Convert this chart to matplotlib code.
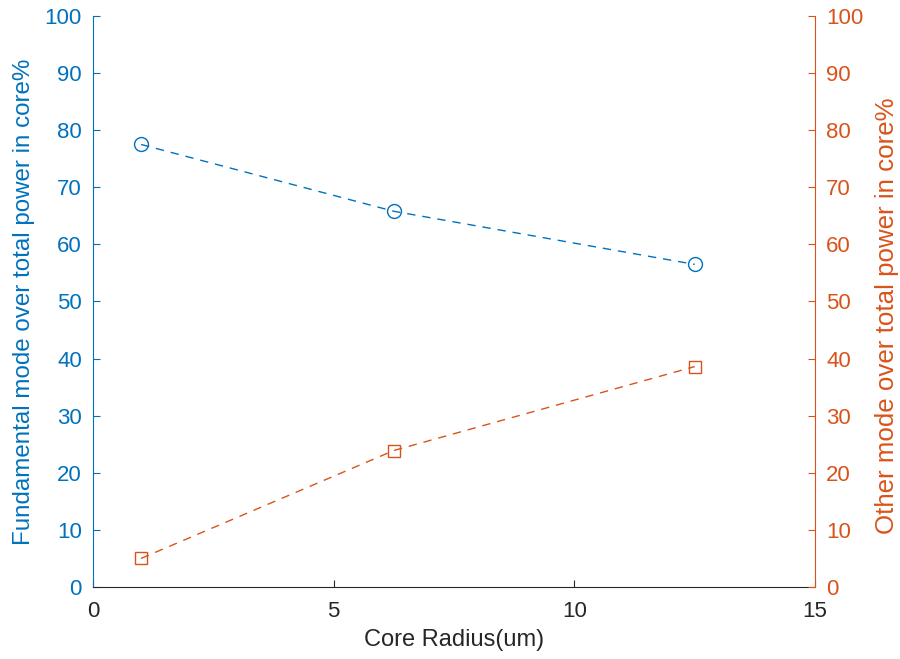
import matplotlib
matplotlib.use('Agg')
import matplotlib.pyplot as plt

plt.rcParams['font.family'] = ['Liberation Sans', 'DejaVu Sans']

# data
radius = [1, 6.25, 12.5]
fundamental = [77.5, 65.8, 56.5]
other = [5.0, 23.9, 38.6]

blue = '#0072BD'
orange = '#D95319'
dark = '#262626'

fig = plt.figure(figsize=(9, 6.59), dpi=100)
ax = fig.add_axes([0.1033, 0.1093, 0.8023, 0.8664])
ax2 = ax.twinx()

ax.plot(radius, fundamental, '--o', color=blue, lw=1, ms=10, mfc='none', mew=1, dashes=(6, 5))
ax2.plot(radius, other, '--s', color=orange, lw=1, ms=9, mfc='none', mew=1, dashes=(6, 5))

ax.set_xlim(0, 15)
ax.set_ylim(0, 100)
ax2.set_ylim(0, 100)
ax.set_xticks([0, 5, 10, 15])
ax.set_yticks(range(0, 101, 10))
ax2.set_yticks(range(0, 101, 10))

ax.set_xlabel('Core Radius(um)', fontsize=17, color=dark, labelpad=5)
ax.set_ylabel('Fundamental mode over total power in core%', fontsize=17.4, color=blue, labelpad=7)
ax2.set_ylabel('Other mode over total power in core%', fontsize=18.6, color=orange)
ax2.yaxis.set_label_coords(1.083, 0.4755)

for a in (ax, ax2):
    a.spines['top'].set_visible(False)
    a.tick_params(direction='in', length=5, width=0.8, labelsize=16, pad=8)
ax.spines['right'].set_visible(False)
ax2.spines['left'].set_visible(False)
ax.spines['left'].set_color(blue)
ax2.spines['right'].set_color(orange)
ax.spines['bottom'].set_color(dark)
ax2.spines['bottom'].set_visible(False)
ax.tick_params(axis='y', colors=blue)
ax2.tick_params(axis='y', colors=orange)
ax.tick_params(axis='x', colors=dark, pad=10)

fig.savefig('out.png', dpi=100)
